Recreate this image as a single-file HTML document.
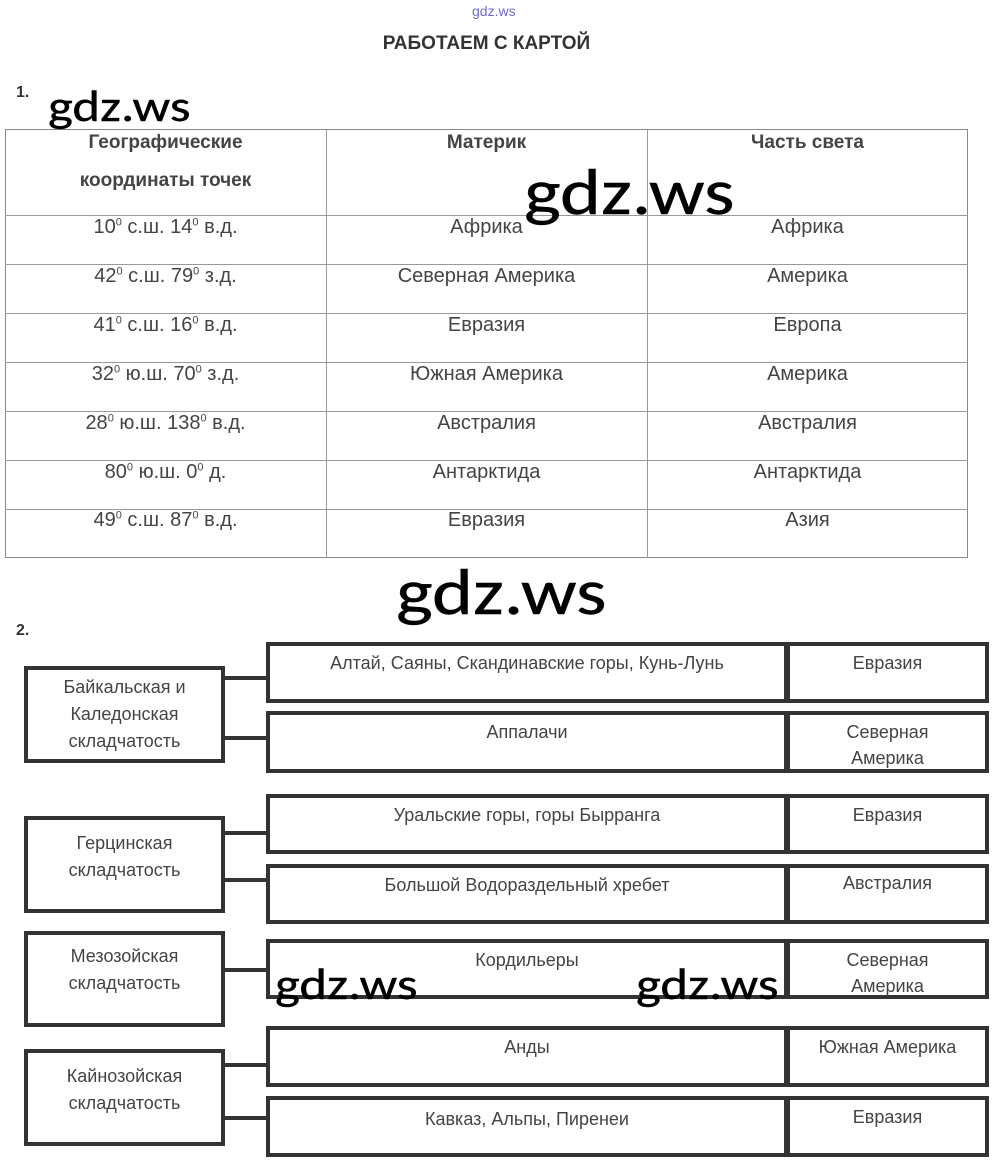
<!DOCTYPE html>
<html><head><meta charset="utf-8"><style>
body{margin:0;width:1000px;height:1172px;background:#fff;position:relative;font-family:"Liberation Sans",sans-serif;color:#444;overflow:hidden}
div{position:absolute;box-sizing:border-box}
.wm{color:#000;font-family:"Carlito","Liberation Sans",sans-serif;line-height:1;white-space:nowrap;transform:scaleX(1.2);transform-origin:left top;-webkit-text-stroke:0.4px #000}
.c{text-align:center;font-size:20px}
.b{border:4px solid #333;background:#fff;text-align:center;font-size:18px;line-height:27px;padding-top:4px}
.l{background:#333;height:4px}
.h{position:absolute;background:#999}
.v{position:absolute;background:#999}
sup{font-size:11px}
</style></head><body>
<div style="left:472px;top:3px;font-size:14px;color:#6b6bd6">gdz.ws</div>
<div style="left:0;width:973px;top:33px;text-align:center;font-weight:bold;font-size:19px;color:#333">РАБОТАЕМ С КАРТОЙ</div>
<div style="left:16px;top:84px;font-size:16px;font-weight:bold;color:#333">1.</div>

<div style="left:5px;top:129px;width:963px;height:429px;border:1px solid #888"></div>
<div class="v" style="left:326px;top:129px;width:1px;height:429px"></div>
<div class="v" style="left:647px;top:129px;width:1px;height:429px"></div>
<div class="h" style="left:5px;top:215px;width:963px;height:1px"></div>
<div class="h" style="left:5px;top:264px;width:963px;height:1px"></div>
<div class="h" style="left:5px;top:313px;width:963px;height:1px"></div>
<div class="h" style="left:5px;top:362px;width:963px;height:1px"></div>
<div class="h" style="left:5px;top:411px;width:963px;height:1px"></div>
<div class="h" style="left:5px;top:460px;width:963px;height:1px"></div>
<div class="h" style="left:5px;top:509px;width:963px;height:1px"></div>

<div class="c" style="left:5px;width:321px;top:124px;font-weight:bold;line-height:38px;font-size:19px">Географические<br>координаты точек</div>
<div class="c" style="left:326px;width:321px;top:130px;font-weight:bold;line-height:26px;font-size:19px">Материк</div>
<div class="c" style="left:647px;width:321px;top:130px;font-weight:bold;line-height:26px;font-size:19px">Часть света</div>

<div class="c" style="left:5px;width:321px;top:216px">10<sup>0</sup> с.ш. 14<sup>0</sup> в.д.</div>
<div class="c" style="left:326px;width:321px;top:216px">Африка</div>
<div class="c" style="left:647px;width:321px;top:216px">Африка</div>
<div class="c" style="left:5px;width:321px;top:265px">42<sup>0</sup> с.ш. 79<sup>0</sup> з.д.</div>
<div class="c" style="left:326px;width:321px;top:265px">Северная Америка</div>
<div class="c" style="left:647px;width:321px;top:265px">Америка</div>
<div class="c" style="left:5px;width:321px;top:314px">41<sup>0</sup> с.ш. 16<sup>0</sup> в.д.</div>
<div class="c" style="left:326px;width:321px;top:314px">Евразия</div>
<div class="c" style="left:647px;width:321px;top:314px">Европа</div>
<div class="c" style="left:5px;width:321px;top:363px">32<sup>0</sup> ю.ш. 70<sup>0</sup> з.д.</div>
<div class="c" style="left:326px;width:321px;top:363px">Южная Америка</div>
<div class="c" style="left:647px;width:321px;top:363px">Америка</div>
<div class="c" style="left:5px;width:321px;top:412px">28<sup>0</sup> ю.ш. 138<sup>0</sup> в.д.</div>
<div class="c" style="left:326px;width:321px;top:412px">Австралия</div>
<div class="c" style="left:647px;width:321px;top:412px">Австралия</div>
<div class="c" style="left:5px;width:321px;top:461px">80<sup>0</sup> ю.ш. 0<sup>0</sup> д.</div>
<div class="c" style="left:326px;width:321px;top:461px">Антарктида</div>
<div class="c" style="left:647px;width:321px;top:461px">Антарктида</div>
<div class="c" style="left:5px;width:321px;top:509px">49<sup>0</sup> с.ш. 87<sup>0</sup> в.д.</div>
<div class="c" style="left:326px;width:321px;top:509px">Евразия</div>
<div class="c" style="left:647px;width:321px;top:509px">Азия</div>

<div style="left:16px;top:622px;font-size:16px;font-weight:bold;color:#333">2.</div>

<div class="b" style="left:24px;top:666px;width:201px;height:97px">Байкальская и<br>Каледонская<br>складчатость</div>
<div class="b" style="left:24px;top:816px;width:201px;height:97px;padding-top:10px">Герцинская<br>складчатость</div>
<div class="b" style="left:24px;top:931px;width:201px;height:96px;padding-top:8px">Мезозойская<br>складчатость</div>
<div class="b" style="left:24px;top:1049px;width:201px;height:97px;padding-top:10px">Кайнозойская<br>складчатость</div>

<div class="l" style="left:224px;top:676px;width:44px"></div>
<div class="l" style="left:224px;top:736px;width:44px"></div>
<div class="l" style="left:224px;top:831px;width:44px"></div>
<div class="l" style="left:224px;top:878px;width:44px"></div>
<div class="l" style="left:224px;top:968px;width:44px"></div>
<div class="l" style="left:224px;top:1063px;width:44px"></div>
<div class="l" style="left:224px;top:1116px;width:44px"></div>

<div class="b" style="left:266px;top:642px;width:522px;height:61px;padding-top:4px">Алтай, Саяны, Скандинавские горы, Кунь-Лунь</div>
<div class="b" style="left:786px;top:642px;width:203px;height:61px;padding-top:4px">Евразия</div>
<div class="b" style="left:266px;top:711px;width:522px;height:62px;padding-top:4px">Аппалачи</div>
<div class="b" style="left:786px;top:711px;width:203px;height:62px;padding-top:4px;line-height:26px;overflow:hidden">Северная<br>Америка</div>
<div class="b" style="left:266px;top:794px;width:522px;height:60px;padding-top:4px">Уральские горы, горы Бырранга</div>
<div class="b" style="left:786px;top:794px;width:203px;height:60px;padding-top:4px">Евразия</div>
<div class="b" style="left:266px;top:864px;width:522px;height:60px;padding-top:4px">Большой Водораздельный хребет</div>
<div class="b" style="left:786px;top:864px;width:203px;height:60px;padding-top:2px">Австралия</div>
<div class="b" style="left:266px;top:939px;width:522px;height:60px;padding-top:4px">Кордильеры</div>
<div class="b" style="left:786px;top:939px;width:203px;height:60px;padding-top:4px;line-height:26px">Северная<br>Америка</div>
<div class="b" style="left:266px;top:1026px;width:522px;height:61px;padding-top:4px">Анды</div>
<div class="b" style="left:786px;top:1026px;width:203px;height:61px;padding-top:4px">Южная Америка</div>
<div class="b" style="left:266px;top:1096px;width:522px;height:61px;padding-top:6px">Кавказ, Альпы, Пиренеи</div>
<div class="b" style="left:786px;top:1096px;width:203px;height:61px;padding-top:4px">Евразия</div>

<div class="wm" style="left:48px;top:84px;font-size:44px">gdz.ws</div>
<div class="wm" style="left:524px;top:160px;font-size:65px">gdz.ws</div>
<div class="wm" style="left:396px;top:560px;font-size:65px">gdz.ws</div>
<div class="wm" style="left:275px;top:962px;font-size:44px">gdz.ws</div>
<div class="wm" style="left:636px;top:962px;font-size:44px">gdz.ws</div>
</body></html>
